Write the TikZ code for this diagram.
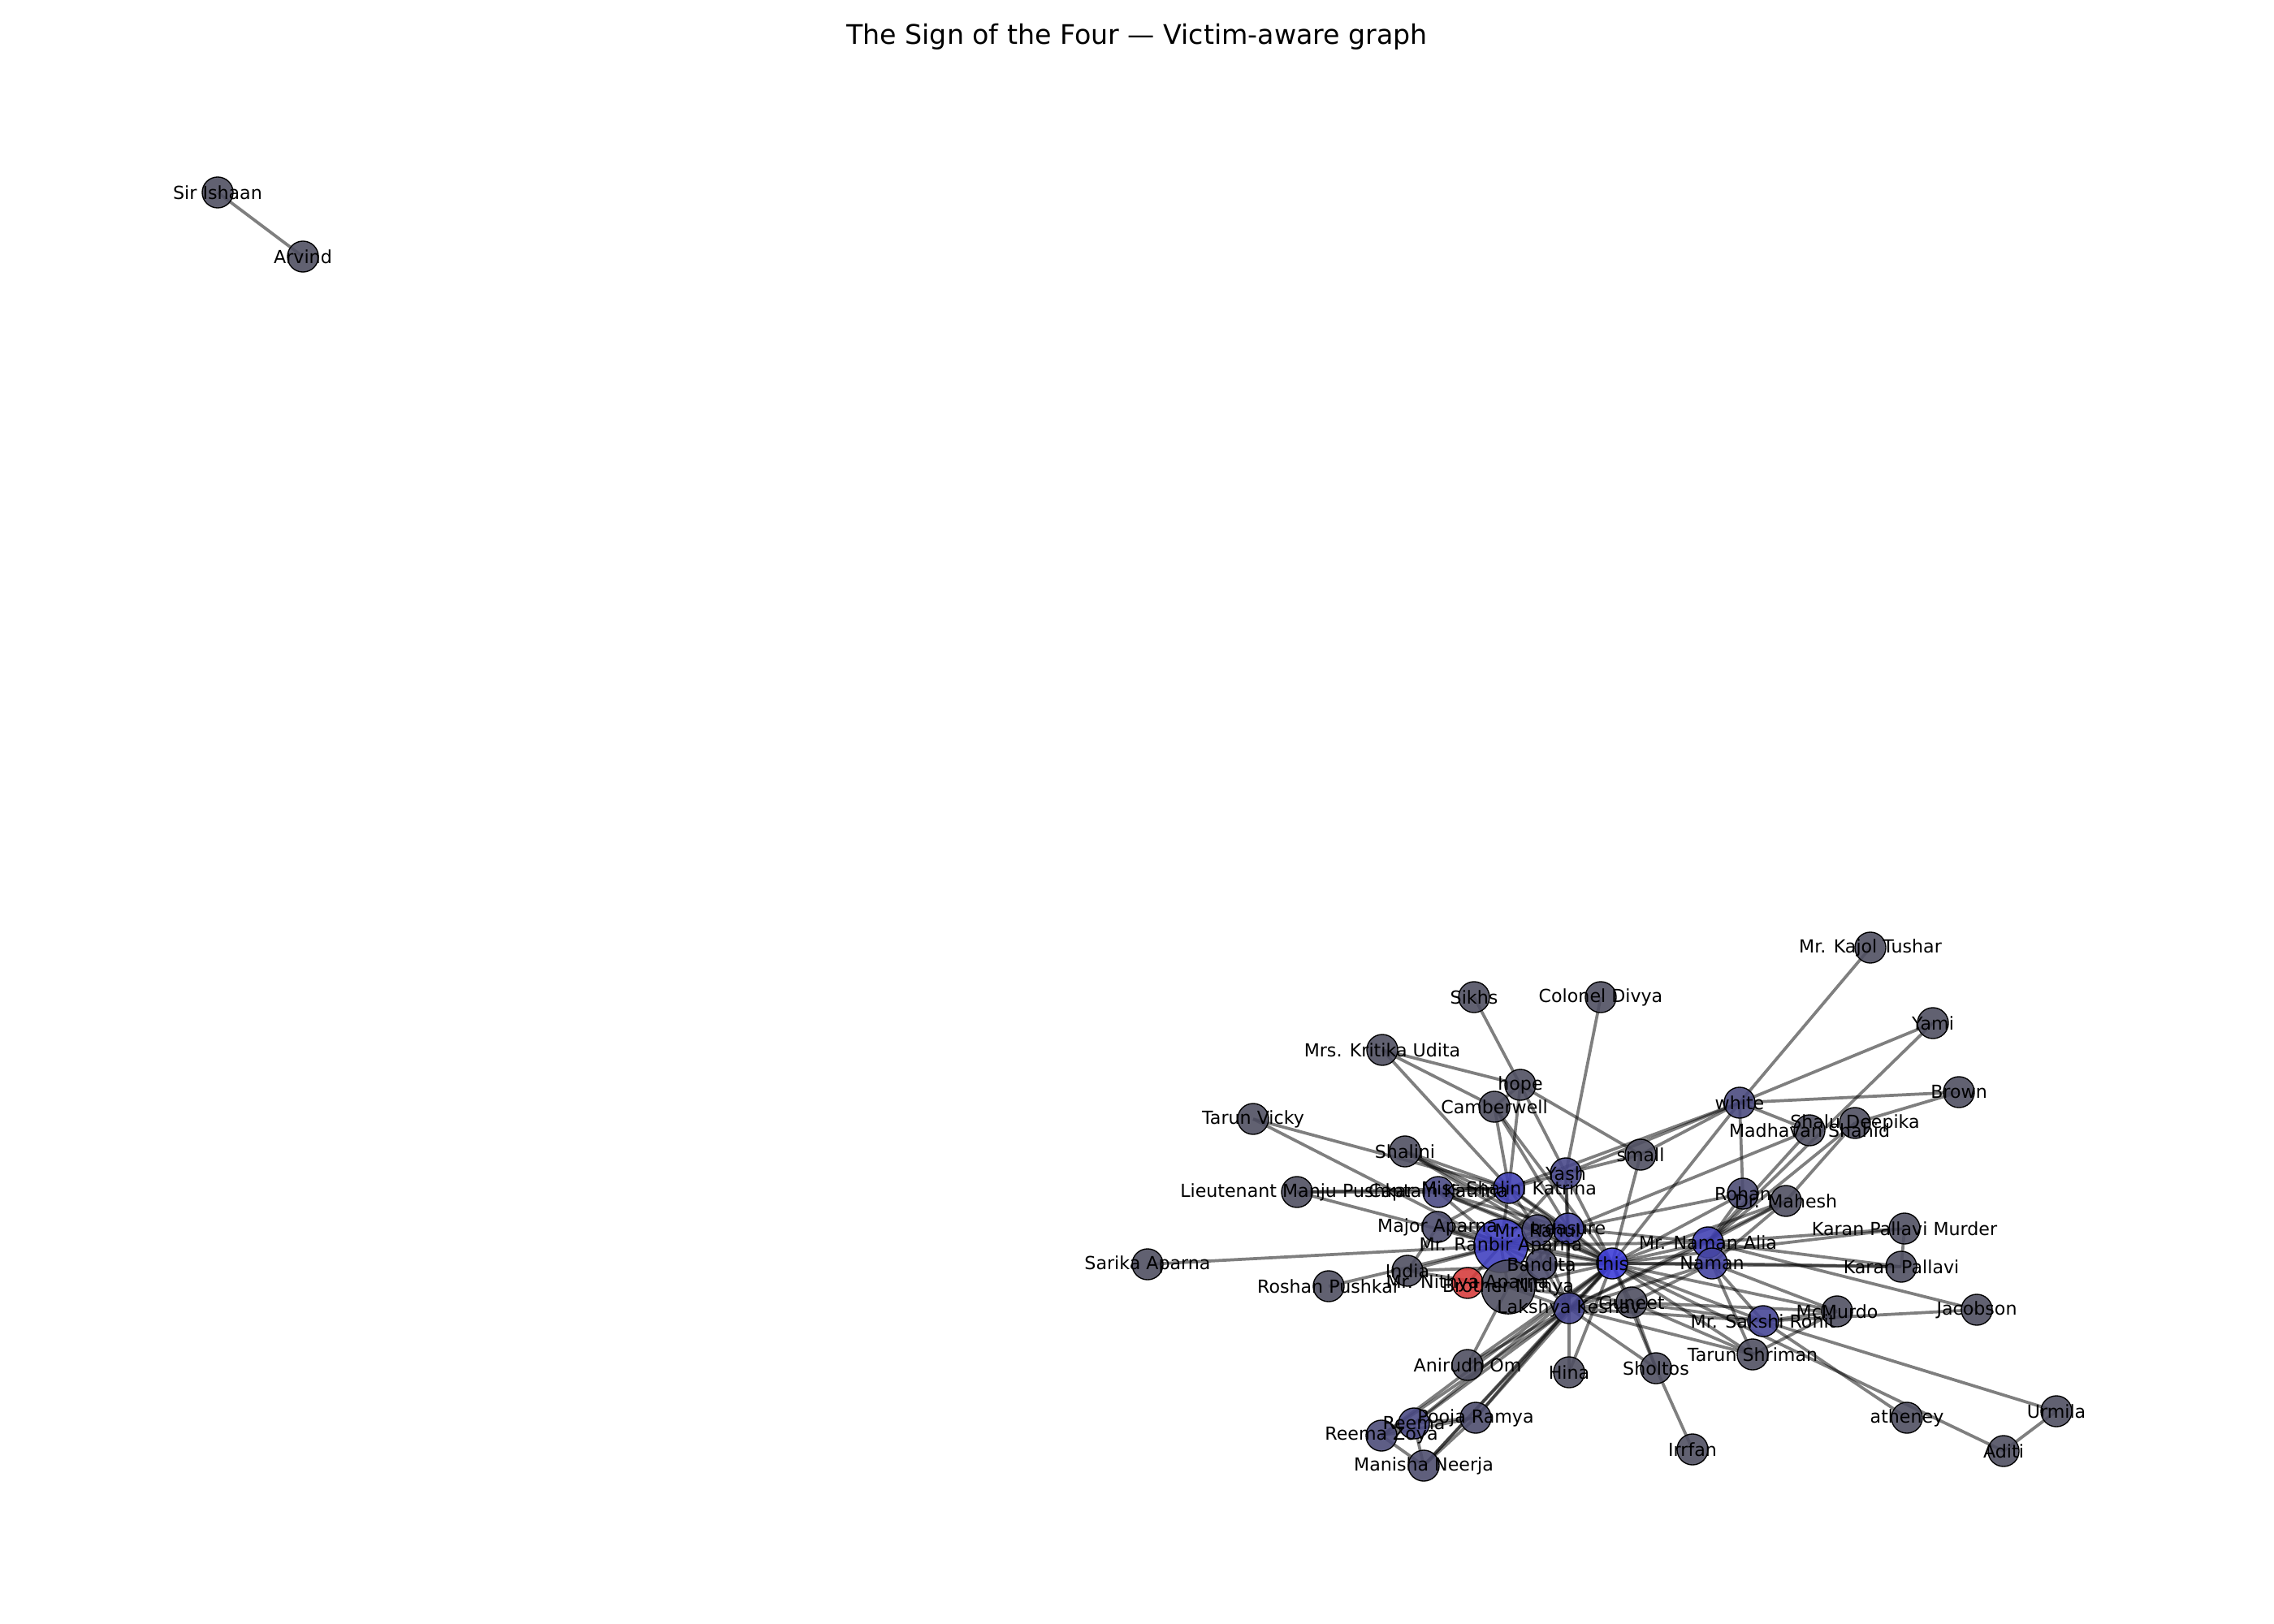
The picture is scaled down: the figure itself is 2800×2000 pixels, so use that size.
\documentclass[tikz,border=0pt]{standalone}
\usepackage{fontspec}
\setmainfont{DejaVu Sans}
\usetikzlibrary{backgrounds}

\definecolor{nodegray}{RGB}{80,80,98}
\definecolor{nodeblue}{RGB}{62,62,215}
\definecolor{victim}{RGB}{214,62,62}

\tikzset{
  vertex/.style={circle, draw=black, line width=0.5pt, fill opacity=0.9, minimum size=4.83mm, inner sep=0pt},
  bigvertex/.style={vertex, minimum size=8.4mm},
  edge/.style={draw=black, opacity=0.5, line width=1.35pt},
  lbl/.style={font=\fontsize{8}{9.6}\selectfont, inner sep=0pt, text=black},
}

\begin{document}
\begin{tikzpicture}[x=0.0127cm, y=-0.0127cm]
    \useasboundingbox (0,0) rectangle (2800,2000);
    \node[font=\fontsize{12}{14}\selectfont] (title) at (1400,45) {The Sign of the Four — Victim-aware graph};

    % characters
    \foreach \n/\x/\y/\s/\c in {
      ishaan/268/237/vertex/nodegray, arvind/373/316/vertex/nodegray,
      kajol/2303/1167/vertex/nodegray, sikhs/1815/1228/vertex/nodegray,
      divya/1971/1228/vertex/nodegray, yami/2380/1260/vertex/nodegray,
      kritika/1702/1293/vertex/nodegray, hope/1872/1336/vertex/nodegray,
      camber/1840/1363/vertex/nodegray, white/2142/1358/vertex/nodeblue!25!nodegray,
      brown/2412/1345/vertex/nodegray, tvicky/1543/1378/vertex/nodegray,
      madhavan/2228/1392/vertex/nodegray, shalu/2284/1383/vertex/nodegray,
      shalini/1730/1418/vertex/nodegray, small/2020/1422/vertex/nodegray,
      yash/1928/1445/vertex/nodeblue!35!nodegray, manju/1597/1468/vertex/nodegray,
      captkat/1771/1468/vertex/nodeblue!30!nodegray, misskat/1858/1463/vertex/nodeblue!70!nodegray,
      rohan/2146/1470/vertex/nodeblue!15!nodegray, mahesh/2199/1479/vertex/nodegray,
      majapa/1770/1511/vertex/nodeblue!10!nodegray, ranbir/1848/1534/bigvertex/nodeblue!80!nodegray,
      brother/1857/1585/bigvertex/nodegray, nithya/1807/1580/vertex/victim,
      bandita/1898/1557/vertex/nodeblue!10!nodegray, rahul/1893/1515/vertex/nodeblue!20!nodegray,
      treasure/1931/1513/vertex/nodeblue!55!nodegray, kpmurder/2345/1513/vertex/nodegray,
      namanalia/2103/1530/vertex/nodeblue!70!nodegray, naman/2108/1556/vertex/nodeblue!55!nodegray,
      sarika/1413/1557/vertex/nodegray, this/1985/1556/vertex/nodeblue,
      kpallavi/2341/1560/vertex/nodegray, india/1733/1565/vertex/nodegray,
      roshan/1636/1584/vertex/nodegray, guneet/2009/1604/vertex/nodegray,
      lakshya/1932/1611/vertex/nodeblue!40!nodegray, mcmurdo/2262/1615/vertex/nodegray,
      jacobson/2434/1613/vertex/nodegray, sakshi/2171/1627/vertex/nodeblue!45!nodegray,
      tshriman/2158/1668/vertex/nodegray, anirudh/1807/1681/vertex/nodegray,
      hina/1932/1690/vertex/nodegray, sholtos/2039/1685/vertex/nodegray,
      pooja/1817/1746/vertex/nodeblue!10!nodegray, reema/1741/1753/vertex/nodeblue!30!nodegray,
      rzoya/1701/1768/vertex/nodeblue!20!nodegray, manisha/1753/1805/vertex/nodeblue!10!nodegray,
      irrfan/2084/1785/vertex/nodegray, atheney/2348/1746/vertex/nodegray,
      urmila/2532/1738/vertex/nodegray, aditi/2467/1787/vertex/nodegray}
      \node[\s, fill=\c] (\n) at (\x,\y) {};

    % ties
    \begin{pgfonlayer}{background}
    \foreach \a/\b in {ishaan/arvind, kajol/white, yami/white, yami/namanalia,
      brown/white, brown/shalu, white/small, white/yash, white/madhavan, white/rohan,
      white/this, white/misskat, shalu/namanalia, mahesh/shalu, madhavan/treasure,
      madhavan/namanalia, rohan/this, rohan/namanalia, rohan/treasure,
      mahesh/namanalia, mahesh/naman, mahesh/this, mahesh/lakshya,
      kpmurder/namanalia, kpmurder/this, kpmurder/kpallavi,
      kpallavi/this, kpallavi/naman, kpallavi/namanalia,
      jacobson/namanalia, jacobson/sakshi,
      mcmurdo/naman, mcmurdo/this, mcmurdo/tshriman, mcmurdo/sakshi, mcmurdo/guneet,
      sakshi/this, sakshi/naman, sakshi/guneet, sakshi/lakshya, sakshi/urmila, sakshi/atheney,
      tshriman/this, tshriman/naman, tshriman/guneet, tshriman/lakshya,
      this/aditi, aditi/urmila,
      naman/namanalia, naman/this, naman/lakshya, naman/guneet,
      namanalia/this, namanalia/treasure, namanalia/lakshya, namanalia/ranbir,
      guneet/this, guneet/lakshya, guneet/sholtos, guneet/brother,
      sholtos/this, sholtos/irrfan, sholtos/lakshya,
      hina/lakshya, hina/this,
      anirudh/lakshya, anirudh/brother, anirudh/this,
      pooja/lakshya, pooja/this, pooja/reema, pooja/manisha, pooja/rzoya,
      reema/lakshya, reema/this, reema/manisha, reema/rzoya,
      rzoya/lakshya, rzoya/this, rzoya/manisha,
      manisha/lakshya, manisha/this,
      lakshya/this, lakshya/ranbir, lakshya/brother, lakshya/treasure, lakshya/yash,
      lakshya/rahul, lakshya/bandita,
      this/ranbir, this/brother, this/bandita, this/treasure, this/rahul, this/yash,
      this/misskat, this/small, this/captkat, this/india, this/majapa, this/shalini, this/camber,
      ranbir/rahul, ranbir/treasure, ranbir/bandita, ranbir/brother, ranbir/misskat,
      ranbir/majapa, ranbir/captkat, ranbir/manju, ranbir/sarika, ranbir/india,
      ranbir/nithya, ranbir/tvicky, ranbir/yash, ranbir/roshan,
      brother/nithya, brother/india, brother/bandita, brother/treasure,
      india/majapa,
      misskat/yash, misskat/treasure, misskat/captkat, misskat/manju, misskat/kritika,
      misskat/camber, misskat/hope, misskat/shalini, misskat/tvicky, misskat/rahul, misskat/majapa,
      captkat/manju, captkat/treasure, captkat/rahul,
      shalini/rahul, shalini/treasure, majapa/treasure,
      camber/hope, camber/kritika, camber/treasure,
      hope/sikhs, hope/kritika, hope/yash, hope/small,
      yash/divya, yash/treasure, yash/small,
      rahul/treasure, rahul/bandita, treasure/bandita}
      \draw[edge] (\a.center) -- (\b.center);
    \end{pgfonlayer}

    % names on top
    \foreach \n/\t in {ishaan/Sir Ishaan, arvind/Arvind, kajol/Mr. Kajol Tushar, sikhs/Sikhs,
      divya/Colonel Divya, yami/Yami, kritika/Mrs. Kritika Udita, hope/hope,
      camber/Camberwell, white/white, brown/Brown, tvicky/Tarun Vicky,
      madhavan/Madhavan Shahid, shalu/Shalu Deepika, shalini/Shalini, small/small,
      yash/Yash, manju/Lieutenant Manju Pushkar, captkat/Captain Katrina,
      misskat/Miss Shalini Katrina, rohan/Rohan, mahesh/Dr. Mahesh, majapa/Major Aparna,
      ranbir/Mr. Ranbir Aparna, brother/Brother Nithya, nithya/Mr. Nithya Aparna,
      bandita/Bandita, rahul/Mr. Rahul, treasure/treasure, kpmurder/Karan Pallavi Murder,
      namanalia/Mr. Naman Alia, naman/Naman, sarika/Sarika Aparna, this/this,
      kpallavi/Karan Pallavi, india/India, roshan/Roshan Pushkar, guneet/Guneet,
      lakshya/Lakshya Keshav, mcmurdo/McMurdo, jacobson/Jacobson, sakshi/Mr. Sakshi Rohit,
      tshriman/Tarun Shriman, anirudh/Anirudh Om, hina/Hina, sholtos/Sholtos,
      pooja/Pooja Ramya, reema/Reema, rzoya/Reema Zoya, manisha/Manisha Neerja,
      irrfan/Irrfan, atheney/atheney, urmila/Urmila, aditi/Aditi}
      \node[lbl] (\n-name) at (\n) {\t};
\end{tikzpicture}
\end{document}
